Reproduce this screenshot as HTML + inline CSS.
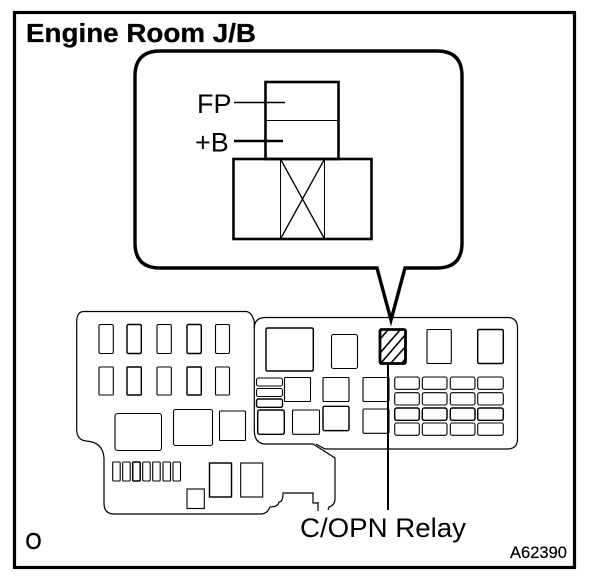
<!DOCTYPE html>
<html><head><meta charset="utf-8"><style>
html,body{margin:0;padding:0;background:#fff;width:608px;height:586px;overflow:hidden}
svg{display:block}
text{font-family:"Liberation Sans",Arial,sans-serif;fill:#000}
.t rect{fill:none;stroke:#000;stroke-width:1.1}
.b rect{fill:none;stroke:#000;stroke-width:1.45}
</style></head><body>
<svg width="608" height="586" viewBox="0 0 608 586" xmlns="http://www.w3.org/2000/svg">
<rect x="14.5" y="12.5" width="560" height="555" fill="none" stroke="#000" stroke-width="3.2"/>
<text x="26" y="42" font-size="25.5" font-weight="bold" textLength="230" lengthAdjust="spacingAndGlyphs" stroke="#000" stroke-width=".3">Engine Room J/B</text>

<path d="M160 51H437Q462 51 462 76V243Q462 268 437 268H405L391 320L377 268H160Q135 268 135 243V76Q135 51 160 51Z" fill="#fff" stroke="#000" stroke-width="3.4" stroke-linejoin="miter"/>

<rect x="265.5" y="82" width="73" height="77" fill="none" stroke="#000" stroke-width="2.6"/>
<line x1="266" y1="120.5" x2="338" y2="120.5" stroke="#000" stroke-width="1"/>
<rect x="233.5" y="159" width="138" height="80" fill="none" stroke="#000" stroke-width="2.6"/>
<line x1="280.5" y1="160" x2="280.5" y2="238" stroke="#000" stroke-width="1"/>
<line x1="324.5" y1="160" x2="324.5" y2="238" stroke="#000" stroke-width="1"/>
<line x1="281" y1="160" x2="324" y2="238" stroke="#000" stroke-width="1.3"/>
<line x1="324" y1="160" x2="281" y2="238" stroke="#000" stroke-width="1.3"/>
<line x1="234" y1="102.5" x2="285" y2="102.5" stroke="#000" stroke-width="1.6"/>
<line x1="234" y1="141" x2="283" y2="141" stroke="#000" stroke-width="2.4"/>
<text x="197" y="113" font-size="27">FP</text>
<text x="195" y="151.5" font-size="27">+B</text>

<!-- left panel outline -->
<path d="M84 311.5H246Q252 312 254.3 322V430Q254.3 444 266 444H313L335 458V499Q335 505 329 507L328 510M76.7 322Q76.7 311.5 84 311.5M76.7 322V430Q77 440 86 441Q103 442 104 458V503Q104 514 114 514H261Q267 514 270 507Q278 507 279 502Q283 502 283 493H313V503H318M318 502V511" fill="none" stroke="#000" stroke-width="1.2"/>
<!-- right panel outline -->
<path d="M254.3 328Q254.3 317.5 266 317.5H507Q517.5 317.5 517.5 328V439Q517.5 449 507 449H325L316 444" fill="none" stroke="#000" stroke-width="1.2"/>

<g class="t">
<rect x="99" y="324.5" width="14.3" height="29" rx="1.5"/>
<rect x="157" y="324.5" width="14.3" height="29" rx="1.5"/>
<rect x="215.5" y="324.5" width="14" height="29" rx="1.5"/>
<rect x="99" y="367" width="14.3" height="28" rx="1"/>
<rect x="157" y="367" width="14.3" height="28" rx="1"/>
<rect x="215.5" y="367" width="14" height="28" rx="1"/>
<rect x="115" y="413.5" width="46.5" height="37" rx="2.5"/>
<rect x="173.5" y="409.5" width="39" height="36" rx="2"/>
<rect x="219.5" y="411" width="26" height="29.5" rx="1"/>
<rect x="112.7" y="462" width="7.5" height="19" rx="1"/>
<rect x="122.7" y="462" width="7.5" height="19" rx="1"/>
<rect x="142.7" y="462" width="7.5" height="19" rx="1"/>
<rect x="152.7" y="462" width="7.5" height="19" rx="1"/>
<rect x="163" y="462" width="7.5" height="19" rx="1"/>
<rect x="173" y="462" width="7.5" height="19" rx="1"/>
<rect x="240.7" y="463" width="22" height="34"/>
<rect x="187" y="489" width="17.3" height="19.5"/>
<rect x="331.5" y="334.5" width="26" height="34" rx="2"/>
<rect x="427" y="329.5" width="24.3" height="34" rx="1"/>
<rect x="256.5" y="378" width="26" height="8" rx="2"/>
<rect x="256.5" y="388.5" width="26" height="8" rx="2"/>
<rect x="284.5" y="377.5" width="26" height="24" rx="1"/>
<rect x="323" y="377.5" width="26" height="24" rx="1"/>
<rect x="363" y="377.5" width="26" height="24" rx="1"/>
<rect x="292.5" y="410" width="27" height="24.3" rx="1"/>
<rect x="363" y="409" width="26" height="24.3" rx="1"/>
</g>
<g class="t">
<rect x="394.7" y="377" width="24.6" height="12.3" rx="2"/><rect x="422.3" y="377" width="24.7" height="12.3" rx="2"/><rect x="450.3" y="377" width="24.7" height="12.3" rx="2"/><rect x="477.7" y="377" width="25.6" height="12.3" rx="2"/>
<rect x="394.7" y="392.7" width="24.6" height="12.3" rx="2"/><rect x="422.3" y="392.7" width="24.7" height="12.3" rx="2"/><rect x="450.3" y="392.7" width="24.7" height="12.3" rx="2"/><rect x="477.7" y="392.7" width="25.6" height="12.3" rx="2"/>
<rect x="394.7" y="423" width="24.6" height="12.3" rx="2"/><rect x="422.3" y="423" width="24.7" height="12.3" rx="2"/><rect x="450.3" y="423" width="24.7" height="12.3" rx="2"/><rect x="477.7" y="423" width="25.6" height="12.3" rx="2"/>
</g>
<g class="b">
<rect x="127" y="324.5" width="14.3" height="29" rx="1.5"/>
<rect x="187" y="324.5" width="14.3" height="29" rx="1.5"/>
<rect x="127" y="367" width="14.3" height="28" rx="1"/>
<rect x="187" y="367" width="14.3" height="28" rx="1"/>
<rect x="132.7" y="462" width="7.5" height="19" rx="1"/>
<rect x="209.5" y="463" width="22" height="34"/>
<rect x="266" y="328" width="47.3" height="43" rx="1.5"/>
<rect x="477.7" y="329.5" width="25.6" height="34" rx="1.5"/>
<rect x="256.5" y="399" width="26" height="8.3" rx="2"/>
<rect x="257.7" y="410" width="26.6" height="24.3" rx="2"/>
<rect x="323" y="406.3" width="26" height="24.3" rx="1.5"/>
<rect x="394.7" y="408" width="24.6" height="12.3" rx="2"/><rect x="422.3" y="408" width="24.7" height="12.3" rx="2"/><rect x="450.3" y="408" width="24.7" height="12.3" rx="2"/><rect x="477.7" y="408" width="25.6" height="12.3" rx="2"/>
</g>

<!-- hatched relay -->
<g stroke="#000" stroke-width="1.6" fill="none">
<line x1="380" y1="339" x2="388" y2="330"/>
<line x1="380" y1="353" x2="400" y2="330"/>
<line x1="381" y1="363" x2="406" y2="334"/>
<line x1="391" y1="363" x2="406" y2="346"/>
<line x1="402" y1="363" x2="406" y2="358"/>
</g>
<rect x="380" y="329.5" width="25.5" height="34" rx="1.5" fill="none" stroke="#000" stroke-width="2.8"/>
<line x1="388" y1="364" x2="388" y2="510" stroke="#000" stroke-width="2"/>

<text x="300" y="537" font-size="27" textLength="166" lengthAdjust="spacingAndGlyphs">C/OPN Relay</text>
<text x="510" y="558" font-size="17" textLength="57" lengthAdjust="spacingAndGlyphs" stroke="#000" stroke-width=".2">A62390</text>
<text x="25.5" y="549" font-size="23" textLength="16" lengthAdjust="spacingAndGlyphs" stroke="#000" stroke-width=".6">O</text>
</svg>
</body></html>
